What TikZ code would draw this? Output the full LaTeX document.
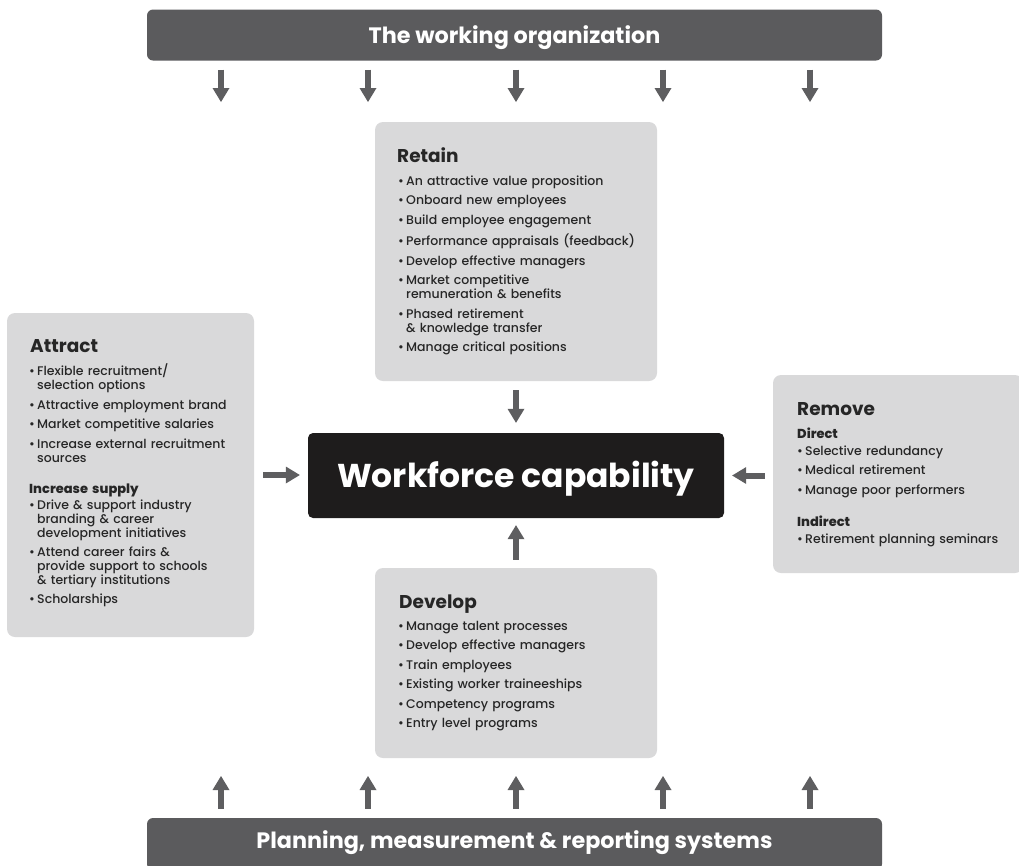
\documentclass[tikz,border=0pt]{standalone}
\usepackage{fontspec}
\setmainfont{Poppins}
\newfontfamily\medfont{Poppins}[UprightFont=* Medium]
\usetikzlibrary{arrows.meta}
\definecolor{barc}{HTML}{5B5B5D}
\definecolor{boxg}{HTML}{D9D9DA}
\definecolor{ink}{HTML}{262626}
\definecolor{core}{HTML}{1E1C1C}
\definecolor{arrowc}{HTML}{5E5E60}
\newcommand\bl[1]{\noindent\hangindent=8pt\hangafter=1\makebox[8pt][l]{\textbullet}#1\par}
\newcommand\subt[1]{\noindent{\bfseries\fontsize{13}{14}\selectfont #1}\par}
\newcommand\gp[1][5.5pt]{\vspace{#1}}
\newcommand\nl{\newline}
\begin{document}
\begin{tikzpicture}[x=1pt,y=-1pt,
  panel/.style={fill=boxg, rounded corners=8pt, draw=none, inner sep=0pt},
  barbox/.style={fill=barc, rounded corners=6pt, text=white, inner sep=0pt,
     font=\bfseries\fontsize{22.3}{26}\selectfont, text height=16pt},
  ttl/.style={font=\bfseries\fontsize{18.5}{22}\selectfont, text=ink, anchor=base west, inner sep=0pt},
  lst/.style={font=\medfont\fontsize{12.5}{14}\selectfont, text=ink, anchor=base west,
     inner sep=0pt, text width=#1, align=left},
  arr/.style={draw=arrowc, line width=6pt, -{Triangle[width=17pt,length=14pt,line width=0pt]}}]
\useasboundingbox (0,0) rectangle (1019,865);

% bars
\node[barbox, text depth=0pt, minimum width=735pt, minimum height=51pt] (org) at (514.5,35) {The working organization};
\node[barbox, text depth=8pt, minimum width=735pt, minimum height=52pt] (plan) at (514.5,844) {Planning, measurement \& reporting systems};

% panels
\node[panel, minimum width=282pt, minimum height=259pt] (retain) at (516,251.5) {};
\node[panel, minimum width=247pt, minimum height=324pt] (attract) at (130.5,475) {};
\node[panel, minimum width=250pt, minimum height=198pt] (remove) at (898,474) {};
\node[panel, minimum width=282pt, minimum height=190pt] (develop) at (516,663) {};

% core
\node[fill=core, rounded corners=5pt, minimum width=416pt, minimum height=85pt, inner sep=0pt,
      text=white, font=\bfseries\fontsize{33}{40}\selectfont, text height=24pt, text depth=0pt]
      (core) at (516,475.5) {Workforce capability};

% Retain
\node[ttl] (retaint) at (397,162) {Retain};
\node[lst=250pt] (retainl) at (398,185) {%
\bl{An attractive value proposition}\gp
\bl{Onboard new employees}\gp
\bl{Build employee engagement}\gp
\bl{Performance appraisals (feedback)}\gp
\bl{Develop effective managers}\gp
\bl{Market competitive\nl remuneration \& benefits}\gp
\bl{Phased retirement\nl \& knowledge transfer}\gp
\bl{Manage critical positions}};

% Attract
\node[ttl] (attractt) at (30,352) {Attract};
\node[lst=220pt] (attractl) at (29,375) {%
\bl{Flexible recruitment/\nl selection options}\gp[6pt]
\bl{Attractive employment brand}\gp
\bl{Market competitive salaries}\gp[6pt]
\bl{Increase external recruitment\nl sources}\gp[17pt]
\subt{Increase supply}\gp[2pt]
\bl{Drive \& support industry\nl branding \& career\nl development initiatives}\gp[5pt]
\bl{Attend career fairs \&\nl provide support to schools\nl \& tertiary institutions}\gp[5pt]
\bl{Scholarships}};

% Remove
\node[ttl] (removet) at (797,415) {Remove};
\node[lst=215pt] (removel) at (797,438) {%
\subt{Direct}\gp[3pt]
\bl{Selective redundancy}\gp[5pt]
\bl{Medical retirement}\gp[6pt]
\bl{Manage poor performers}\gp[18pt]
\subt{Indirect}\gp[3pt]
\bl{Retirement planning seminars}};

% Develop
\node[ttl] (developt) at (399,608) {Develop};
\node[lst=250pt] (developl) at (398,630) {%
\bl{Manage talent processes}\gp
\bl{Develop effective managers}\gp
\bl{Train employees}\gp
\bl{Existing worker traineeships}\gp
\bl{Competency programs}\gp
\bl{Entry level programs}};

% connectors to core
\draw[arr, shorten <=9pt, shorten >=10pt] (retain.south) -- (core.north);
\draw[arr, shorten <=8pt, shorten >=7pt] (develop.north) -- (core.south);
\draw[arr, shorten <=9pt, shorten >=8pt] (attract.east) -- (attract.east -| core.west);
\draw[arr, shorten <=8pt, shorten >=8pt] (remove.west |- core.east) -- (core.east);

% top and bottom arrows
\foreach \i/\x in {1/221,2/368,3/516,4/663,5/810}{
  \coordinate (td\i) at (\x,102);
  \coordinate (bu\i) at (\x,776);
  \draw[arr, shorten <=9pt] (org.south -| td\i) -- (td\i);
  \draw[arr, shorten <=9pt] (plan.north -| bu\i) -- (bu\i);
}
\end{tikzpicture}
\end{document}
